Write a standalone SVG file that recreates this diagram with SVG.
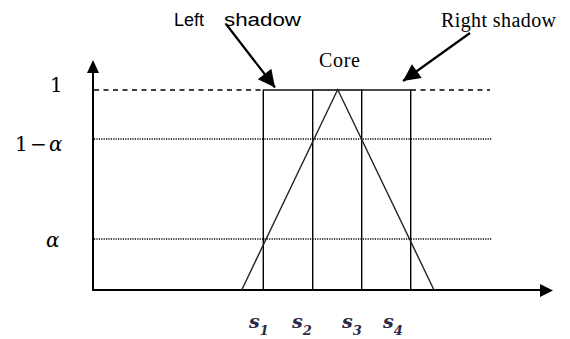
<svg xmlns="http://www.w3.org/2000/svg" width="570" height="339" viewBox="0 0 570 339">
<style>
.axis{stroke:#000;stroke-width:2;fill:none}
.edge{stroke:#000;stroke-width:1.4;fill:none}
.dash{stroke:#000;stroke-width:1.5;stroke-dasharray:5 4.5;fill:none}
.dot{stroke:#000;stroke-width:1.3;stroke-dasharray:1.2 1.2;fill:none}
.tri{stroke:#222;stroke-width:1.4;fill:none}
.arr{stroke:#000;stroke-width:2.2;fill:none}
.sans{font-family:"Liberation Sans",Arial,sans-serif;font-size:18px;fill:#000}
.serif{font-family:"Liberation Serif","Times New Roman",serif;font-size:20px;fill:#000}
.math{font-family:"DejaVu Serif","Liberation Serif",serif;font-size:20px;fill:#000}
.s{font-family:"DejaVu Serif","Liberation Serif",serif;font-style:italic;font-weight:bold;font-size:19px;fill:#2d2a45}
.sub{font-family:"DejaVu Serif","Liberation Serif",serif;font-weight:bold;font-size:13px;fill:#2d2a45}
</style>
<defs>
<pattern id="dots" patternUnits="userSpaceOnUse" x="264" y="89" width="16" height="19.2">
<circle cx="12.7" cy="5" r="1" fill="#8a8a8a"/>
<circle cx="4.3" cy="14.6" r="1" fill="#8a8a8a"/>
</pattern>
<marker id="big" viewBox="0 0 10 10" refX="10" refY="5" markerWidth="20" markerHeight="17" markerUnits="userSpaceOnUse" orient="auto">
<path d="M0,0 L10,5 L0,10 z" fill="#000"/>
</marker>
</defs>

<g id="axes">
<line class="axis" x1="93" y1="290" x2="93" y2="72"/>
<path d="M87,73 L93,60 L99,73 z" fill="#000"/>
<line class="axis" x1="92" y1="290" x2="541" y2="290"/>
<path d="M540,284 L553,290.5 L540,297 z" fill="#000"/>
</g>

<g id="levels">
<line class="dash" x1="94" y1="90" x2="263" y2="90"/>
<line class="dash" x1="411" y1="90" x2="490" y2="90"/>
<line class="dot" x1="94" y1="139" x2="492" y2="139"/>
<line class="dot" x1="94" y1="239" x2="492" y2="239"/>
</g>

<g id="left-shadow">
<rect x="263.3" y="90" width="49.4" height="200" fill="url(#dots)" class="edge"/>
</g>
<g id="right-shadow">
<rect x="361.7" y="90" width="49" height="200" fill="url(#dots)" class="edge"/>
</g>
<g id="core">
<line class="edge" x1="312.7" y1="90" x2="361.7" y2="90"/>
<polyline class="tri" points="241.7,290 337.7,89.5 434,290"/>
</g>

<g id="connectors">
<line class="arr" x1="226" y1="24" x2="275" y2="87.5" marker-end="url(#big)"/>
<line class="arr" x1="470" y1="33" x2="403" y2="81" marker-end="url(#big)"/>
</g>

<g id="labels">
<text class="sans" x="174" y="26">Left</text>
<text class="sans" x="224" y="26" textLength="77" lengthAdjust="spacingAndGlyphs">shadow</text>
<text class="serif" x="319" y="67" textLength="41">Core</text>
<text class="serif" x="441" y="27" textLength="115">Right shadow</text>
<text class="math" x="50" y="92">1</text>
<text class="math" x="15" y="151">1</text>
<text class="math" x="30" y="151">−</text>
<text class="math" x="49" y="151" font-style="italic">α</text>
<text class="math" x="46" y="247" font-style="italic">α</text>
<text class="s" x="249" y="328">s<tspan class="sub" dy="7">1</tspan></text>
<text class="s" x="292" y="328">s<tspan class="sub" dy="7">2</tspan></text>
<text class="s" x="342" y="328">s<tspan class="sub" dy="7">3</tspan></text>
<text class="s" x="383" y="328">s<tspan class="sub" dy="7">4</tspan></text>
</g>
</svg>
